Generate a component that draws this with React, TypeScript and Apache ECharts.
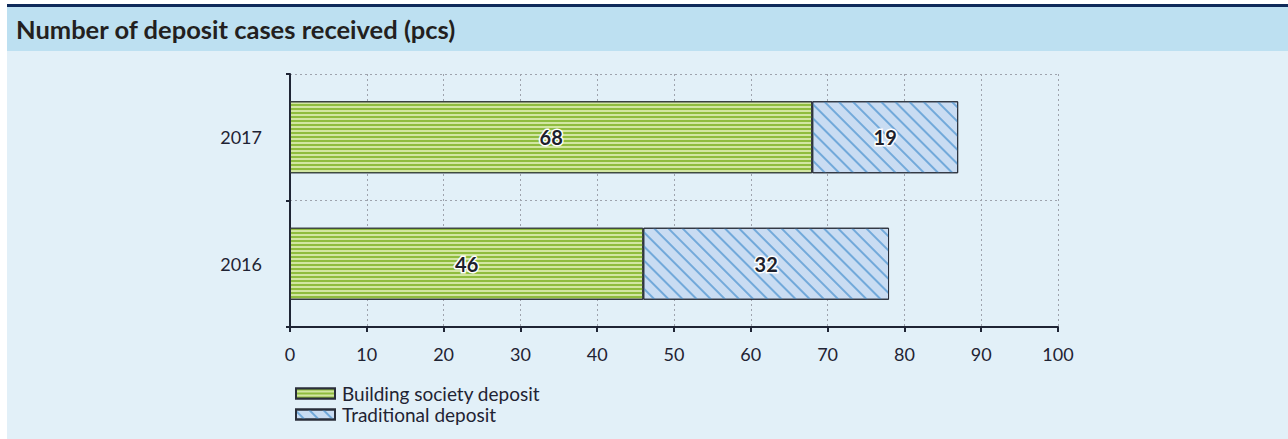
import React, { useEffect, useRef } from "react";
import * as echarts from "echarts";

const titleText = "Number of deposit cases received (pcs)";
const years = ["2016", "2017"];
const buildingSociety = [46, 68];
const traditional = [32, 19];
const seriesNames = ["Building society deposit", "Traditional deposit"];
const xMin = 0;
const xMax = 100;
const xStep = 10;

const FONT = "Lato, 'Open Sans', sans-serif";

export default function App() {
  const ref = useRef<HTMLDivElement>(null);
  useEffect(() => {
    const chart = echarts.init(ref.current!, null, { renderer: "svg" });
    const labelStyle = {
      show: true,
      position: "inside",
      fontFamily: FONT,
      fontSize: 20,
      fontWeight: "bold",
      color: "#1d1f2c",
      textBorderColor: "#ffffff",
      textBorderWidth: 3,
    };
    chart.setOption({
      animation: false,
      backgroundColor: "#e2f0f8",
      textStyle: { fontFamily: FONT },
      graphic: [
        { type: "rect", left: 0, top: 0, shape: { width: 1281, height: 3 }, style: { fill: "#0f2a5a" }, z: 0 },
        { type: "rect", left: 0, top: 3, shape: { width: 1281, height: 44 }, style: { fill: "#bde0f1" }, z: 0 },
      ],
      title: {
        text: titleText,
        left: 4,
        top: 7,
        textStyle: { fontFamily: FONT, fontSize: 25.5, fontWeight: "bold", color: "#231f20" },
      },
      legend: {
        orient: "vertical",
        left: 283,
        top: 375,
        itemWidth: 39,
        itemHeight: 10,
        itemGap: 2,
        icon: "rect",
        textStyle: { fontFamily: FONT, fontSize: 19, color: "#1f2333", padding: [0, 0, 0, 2] },
        data: seriesNames,
      },
      grid: { left: 283, right: 230, top: 70, bottom: 112, containLabel: false },
      xAxis: {
        type: "value",
        min: xMin,
        max: xMax,
        interval: xStep,
        axisLine: { show: true, lineStyle: { color: "#1f2535", width: 2 } },
        axisTick: { show: true, length: 5, lineStyle: { color: "#1f2535", width: 2 } },
        axisLabel: { margin: 18, fontFamily: FONT, fontSize: 18, color: "#1f2333" },
        splitLine: { show: true, lineStyle: { color: "#9ea3ad", type: [2, 3], width: 1 } },
      },
      yAxis: {
        type: "category",
        data: years,
        axisLine: { show: true, lineStyle: { color: "#1f2535", width: 2 } },
        axisTick: { show: true, length: 4, alignWithLabel: false, lineStyle: { color: "#1f2535", width: 2 } },
        axisLabel: { margin: 28, fontFamily: FONT, fontSize: 18, color: "#1f2333" },
        splitLine: { show: true, lineStyle: { color: "#9ea3ad", type: [2, 3], width: 1 } },
      },
      series: [
        {
          name: seriesNames[0],
          type: "bar",
          stack: "total",
          barWidth: 72,
          data: buildingSociety,
          itemStyle: {
            color: "#d2e6a2",
            borderColor: "#2a2f3a",
            borderWidth: 1,
            decal: {
              symbol: "rect",
              symbolSize: 1,
              color: "#8fbc3e",
              dashArrayX: [1, 0],
              dashArrayY: [2, 1.3],
              rotation: 0,
            },
          },
          label: labelStyle,
        },
        {
          name: seriesNames[1],
          type: "bar",
          stack: "total",
          barWidth: 72,
          data: traditional,
          itemStyle: {
            color: "#c9dcf2",
            borderColor: "#2a2f3a",
            borderWidth: 1,
            decal: {
              symbol: "rect",
              symbolSize: 1,
              color: "#72a9da",
              dashArrayX: [1, 0],
              dashArrayY: [1.4, 7.6],
              rotation: Math.PI / 4,
            },
          },
          label: labelStyle,
        },
      ],
    });
    return () => chart.dispose();
  }, []);
  return (
    <div
      ref={ref}
      style={{ position: "absolute", left: 7, top: 4, width: 1281, height: 435 }}
    />
  );
}
